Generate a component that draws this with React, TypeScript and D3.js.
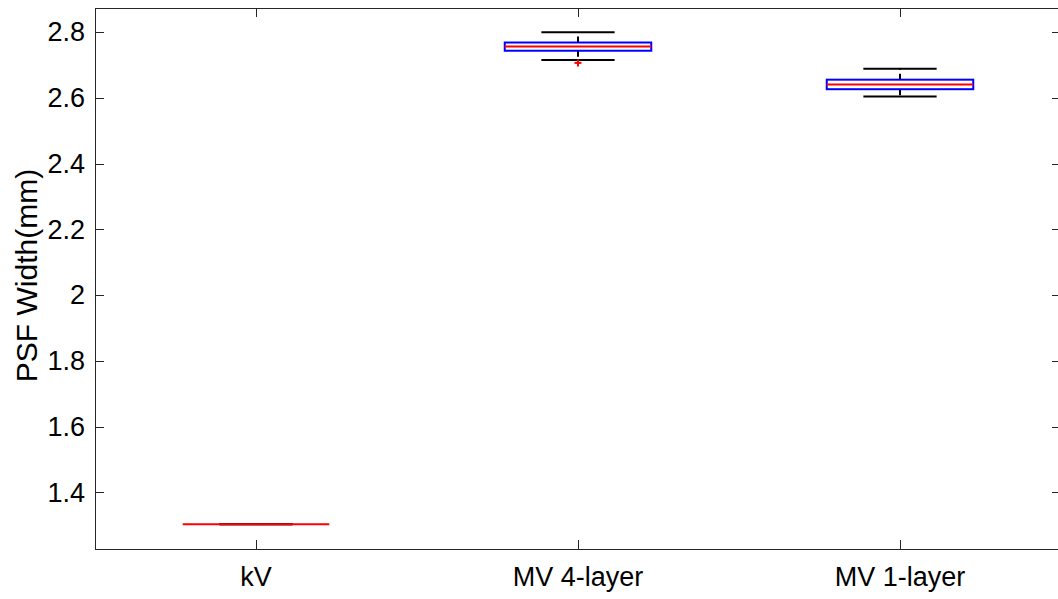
import React from "react";
import * as d3 from "d3";

const categories = ["kV", "MV 4-layer", "MV 1-layer"];
const q1 = [1.303, 2.743, 2.626];
const medians = [1.303, 2.756, 2.64];
const q3 = [1.303, 2.768, 2.655];
const whiskerLow = [1.303, 2.715, 2.604];
const whiskerHigh = [1.303, 2.799, 2.688];
const outliers: number[][] = [[], [2.706], []];
const yTicks = [1.4, 1.6, 1.8, 2, 2.2, 2.4, 2.6, 2.8];
const yLabel = "PSF Width(mm)";

const W = 1058;
const H = 599;
const left = 95;
const right = 1061;
const top = 8;
const bottom = 549;
const axisColor = "#262626";
const font = "'Liberation Sans', Arial, Helvetica, sans-serif";

export default function App() {
  const x = d3.scaleLinear().domain([0.5, 3.5]).range([left, right]);
  const y = d3.scaleLinear().domain([1.2275, 2.873]).range([bottom, top]);
  const boxW = 0.455;
  const half = (x(1 + boxW / 2) - x(1));
  const capHalf = half / 2;
  const tickLen = 9;

  return (
    <svg width={W} height={H} style={{ position: "absolute", left: 0, top: 0, background: "#fff" }}>
      <rect x={0} y={0} width={W} height={H} fill="#fff" />
      {/* boxes */}
      {categories.map((c, i) => {
        const cx = x(i + 1);
        return (
          <g key={c}>
            <line x1={cx} x2={cx} y1={y(q3[i])} y2={y(whiskerHigh[i])} stroke="#000" strokeWidth={2} strokeDasharray="6,4" />
            <line x1={cx} x2={cx} y1={y(q1[i])} y2={y(whiskerLow[i])} stroke="#000" strokeWidth={2} strokeDasharray="6,4" />
            <line x1={cx - capHalf} x2={cx + capHalf} y1={y(whiskerHigh[i])} y2={y(whiskerHigh[i])} stroke="#000" strokeWidth={2} />
            <line x1={cx - capHalf} x2={cx + capHalf} y1={y(whiskerLow[i])} y2={y(whiskerLow[i])} stroke="#000" strokeWidth={2} />
            <rect x={cx - half} y={y(q3[i])} width={2 * half} height={Math.max(0, y(q1[i]) - y(q3[i]))} fill="none" stroke="#0000ff" strokeWidth={2} />
            <line x1={cx - half} x2={cx + half} y1={y(medians[i])} y2={y(medians[i])} stroke="#ff0000" strokeWidth={2} />
            {outliers[i].map((v, j) => (
              <g key={j}>
                <line x1={cx - 3.5} x2={cx + 3.5} y1={y(v)} y2={y(v)} stroke="#ff0000" strokeWidth={2} />
                <line x1={cx} x2={cx} y1={y(v) - 3.5} y2={y(v) + 3.5} stroke="#ff0000" strokeWidth={2} />
              </g>
            ))}
          </g>
        );
      })}
      {/* axes frame */}
      <g stroke={axisColor} strokeWidth={1} fill="none">
        <line x1={left} x2={right} y1={top + 0.5} y2={top + 0.5} />
        <line x1={left} x2={right} y1={bottom + 0.5} y2={bottom + 0.5} />
        <line x1={left + 0.5} x2={left + 0.5} y1={top} y2={bottom} />
        <line x1={right - 0.5} x2={right - 0.5} y1={top} y2={bottom} />
        {yTicks.map((t) => (
          <g key={t}>
            <line x1={left} x2={left + tickLen} y1={Math.round(y(t)) + 0.5} y2={Math.round(y(t)) + 0.5} />
            <line x1={right - tickLen} x2={right} y1={Math.round(y(t)) + 0.5} y2={Math.round(y(t)) + 0.5} />
          </g>
        ))}
        {categories.map((c, i) => (
          <g key={c}>
            <line x1={Math.round(x(i + 1)) + 0.5} x2={Math.round(x(i + 1)) + 0.5} y1={bottom} y2={bottom - tickLen} />
            <line x1={Math.round(x(i + 1)) + 0.5} x2={Math.round(x(i + 1)) + 0.5} y1={top} y2={top + tickLen} />
          </g>
        ))}
      </g>
      {/* tick labels */}
      <g fill="#000" fontFamily={font} fontSize={27}>
        {yTicks.map((t) => (
          <text key={t} x={left - 10} y={y(t)} dy="0.35em" textAnchor="end">
            {d3.format("~g")(t)}
          </text>
        ))}
        {categories.map((c, i) => (
          <text key={c} x={x(i + 1)} y={586} textAnchor="middle">
            {c}
          </text>
        ))}
      </g>
      <text
        transform={`translate(37,275.5) rotate(-90)`}
        textAnchor="middle"
        fontFamily={font}
        fontSize={30}
        fill="#000"
      >
        {yLabel}
      </text>
    </svg>
  );
}
